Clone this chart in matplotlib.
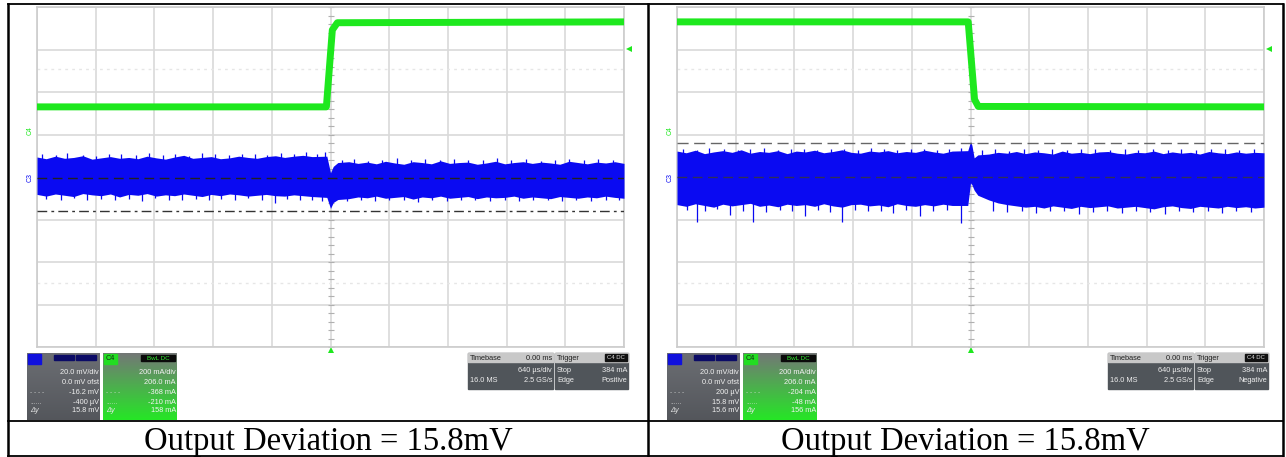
import numpy as np
import matplotlib.pyplot as plt
from matplotlib.patches import Rectangle

W, H = 1286, 457

# ---- waveform data ----
# time in µs (640 µs/div), C3 in mV (20 mV/div), C4 in mA (200 mA/div)
t_c4_left = [-3200, -45, 20, 75, 3200]
c4_left = [110, 110, 472, 506, 510]
t_c4_right = [-3200, -25, 44, 85, 3200]
c4_right = [510, 510, 145, 112, 110]

# C3 noise envelope (upper / lower edge of the blue band), sampled every 100 µs
# with a few extra samples around the load step
t_c3_left = np.r_[np.arange(-3200, -100, 100), [-40, 0, 30, 80], np.arange(200, 3201, 100)]
c3_up_left = [9.4, 8.6, 9.8, 8.8, 9.2, 10.0, 8.4, 9.0, 9.6, 8.8, 9.2, 8.6, 9.8, 9.0, 8.4,
              9.4, 10.2, 8.8, 9.2, 9.6, 8.6, 9.0, 9.8, 9.2, 8.8, 9.6, 10.0, 9.2, 9.8, 10.2, 9.6,
              9.8, 2.0, 5.0, 6.8,
              7.2, 6.4, 7.0, 6.2, 7.4, 6.6, 6.0, 7.2, 6.8, 6.2, 7.6, 6.4, 6.8, 7.0, 6.0,
              6.6, 7.4, 6.2, 6.8, 7.2, 6.4, 7.0, 6.6, 6.0, 7.4, 6.8, 6.2, 7.0, 6.6, 7.2, 6.4]
c3_lo_left = [-8.2, -9.0, -8.0, -8.6, -9.2, -7.8, -8.4, -8.8, -8.0, -9.4, -8.2, -8.6, -7.8,
              -9.0, -8.4, -8.8, -8.0, -8.6, -9.2, -8.2, -8.8, -8.0, -8.4, -9.0, -8.6, -8.2,
              -8.8, -9.0, -8.4, -8.8, -9.2,
              -9.6, -14.8, -12.0, -10.6,
              -10.2, -9.4, -9.8, -9.0, -10.0, -9.6, -9.2, -10.4, -9.4, -9.8, -9.0, -10.0,
              -9.6, -9.2, -10.2, -9.4, -9.8, -9.6, -9.0, -10.0, -9.4, -9.8, -10.2, -9.2,
              -9.6, -10.0, -9.4, -9.8, -9.0, -9.6, -10.0]
spk_t_up_left = [-3150, -2990, -2870, -2700, -2560, -2410, -2280, -2120, -1980, -1830,
                 -1690, -1540, -1400, -1260, -1110, -960, -820, -690, -540, -400,
                 -270, -150, -60, 120, 260, 410, 560, 720, 880, 1030, 1190, 1350,
                 1500, 1660, 1820, 1970, 2130, 2290, 2450, 2600, 2760, 2920, 3080]
spk_up_left = [10.8, 10.2, 11.2, 10.4, 10.0, 11.0, 10.6, 10.2, 11.4, 10.4, 10.8, 10.0,
               11.2, 10.6, 10.2, 10.8, 11.0, 10.4, 11.2, 10.8, 11.6, 11.0, 11.8, 8.0,
               8.4, 7.6, 8.2, 8.8, 7.8, 8.4, 8.0, 8.6, 7.8, 8.2, 8.8, 8.0, 8.4, 7.6,
               8.2, 8.6, 7.8, 8.4, 8.0]
spk_t_lo_left = [-3100, -2940, -2800, -2650, -2500, -2350, -2200, -2060, -1910, -1760,
                 -1620, -1470, -1330, -1190, -1040, -900, -750, -610, -470, -330,
                 -200, -90, 180, 330, 480, 640, 800, 950, 1110, 1270, 1420, 1580,
                 1740, 1900, 2050, 2210, 2370, 2520, 2680, 2840, 3000, 3150]
spk_lo_left = [-10.4, -10.8, -10.0, -11.0, -10.2, -10.6, -10.4, -11.2, -10.0, -10.6,
               -10.8, -10.2, -11.0, -10.4, -10.6, -10.0, -10.8, -12.0, -10.4, -10.8,
               -10.6, -11.4, -11.2, -10.8, -11.4, -10.6, -11.0, -11.6, -10.8, -11.2,
               -10.6, -11.0, -11.4, -10.8, -11.2, -10.6, -11.0, -11.4, -10.8, -11.2,
               -10.6, -11.0]

t_c3_right = np.r_[np.arange(-3200, -100, 100), [-30, 0, 15, 40, 80], np.arange(200, 3201, 100)]
c3_up_right = [12.2, 11.4, 12.6, 11.0, 11.8, 12.4, 11.6, 12.8, 11.2, 12.0, 11.6, 12.4, 11.0,
               12.2, 11.8, 12.6, 11.4, 12.0, 12.8, 11.6, 11.2, 12.2, 11.8, 12.4, 11.4, 12.0,
               11.6, 12.6, 11.8, 11.2, 12.2,
               12.4, 16.6, 15.0, 9.0, 10.4,
               10.8, 11.6, 11.2, 12.0, 11.0, 11.8, 11.4, 10.8, 12.2, 11.2, 11.6, 11.0, 11.8,
               12.0, 11.2, 10.8, 11.6, 11.4, 12.2, 11.0, 11.8, 11.2, 11.6, 10.8, 12.0, 11.4,
               11.0, 11.8, 11.2, 11.6, 11.4]
c3_lo_right = [-13.0, -13.8, -12.6, -13.4, -14.2, -12.8, -13.6, -13.0, -12.4, -13.8, -13.2,
               -14.0, -12.8, -13.4, -13.0, -13.8, -12.6, -13.6, -14.2, -13.0, -12.8, -13.6,
               -13.2, -14.0, -12.6, -13.4, -13.8, -13.0, -13.6, -12.8, -13.4,
               -13.4, -2.8, -3.6, -6.2, -8.6,
               -10.8, -12.2, -13.0, -13.6, -14.2, -13.8, -14.6, -13.6, -14.2, -14.8, -13.8,
               -14.4, -14.0, -13.6, -14.6, -14.2, -13.8, -14.4, -15.0, -14.0, -13.6, -14.4,
               -14.8, -13.8, -14.2, -14.6, -13.8, -14.4, -14.0, -14.6, -14.2]
spk_t_up_right = [-3140, -2980, -2850, -2690, -2540, -2400, -2250, -2100, -1960, -1810,
                  -1670, -1520, -1380, -1230, -1090, -940, -800, -650, -510, -370,
                  -230, -100, 120, 270, 420, 580, 740, 890, 1050, 1210, 1360, 1520,
                  1680, 1830, 1990, 2150, 2300, 2460, 2620, 2770, 2930, 3090]
spk_up_right = [13.2, 12.8, 13.6, 13.0, 12.6, 13.4, 13.8, 12.8, 13.2, 13.0, 12.6, 13.4,
                13.0, 12.8, 13.6, 13.2, 12.8, 13.0, 13.4, 12.6, 13.2, 13.8, 12.6, 13.0,
                12.4, 13.2, 12.8, 13.4, 12.6, 13.0, 13.2, 12.8, 13.4, 12.6, 13.0, 12.8,
                13.2, 12.6, 13.0, 13.4, 12.8, 13.0]
spk_t_lo_right = [-3090, -2980, -2890, -2760, -2620, -2480, -2370, -2230, -2080, -1950,
                  -1800, -1660, -1530, -1400, -1260, -1120, -980, -840, -700, -550,
                  -410, -260, -100, 250, 400, 560, 710, 870, 1020, 1180, 1340, 1490,
                  1650, 1800, 1960, 2120, 2270, 2430, 2590, 2740, 2900, 3060]
spk_lo_right = [-15.6, -21.0, -16.2, -15.2, -18.0, -15.8, -21.0, -16.4, -15.4, -16.0,
                -18.2, -15.6, -16.6, -21.0, -15.4, -16.2, -15.8, -16.8, -15.4, -18.4,
                -16.0, -15.6, -21.6, -16.0, -16.6, -15.8, -17.0, -16.2, -15.8, -17.4,
                -16.4, -16.0, -16.8, -15.8, -16.4, -17.2, -16.0, -16.6, -15.8, -17.0,
                -16.2, -16.6]

cursors_left = [-0.4, -16.2]
cursors_right = [15.8, 0.2]
trigger_ma = 384

blue_lines_left = ["20.0 mV/div", "0.0 mV ofst", "-16.2 mV", "-400 µV", "15.8 mV"]
blue_lines_right = ["20.0 mV/div", "0.0 mV ofst", "200 µV", "15.8 mV", "15.6 mV"]
green_lines_left = ["200 mA/div", "206.0 mA", "-368 mA", "-210 mA", "158 mA"]
green_lines_right = ["200 mA/div", "206.0 mA", "-204 mA", "-48 mA", "156 mA"]
edge_left, edge_right = "Positive", "Negative"
caption = "Output Deviation = 15.8mV"

BLUE = "#0a0af2"
GREEN = "#1ee81e"
GRID = "#d9d9d9"
SANS = "Liberation Sans"

fig = plt.figure(figsize=(W / 100, H / 100), dpi=100)
bg = fig.add_axes([0, 0, 1, 1])
bg.set_xlim(0, W)
bg.set_ylim(H, 0)
bg.axis("off")


def px_axes(x0, y0, x1, y1):
    return fig.add_axes([x0 / W, 1 - y1 / H, (x1 - x0) / W, (y1 - y0) / H])


def scope(x0, t4, c4, t3, up, lo, stu, su, stl, sl, cursors, cur_styles):
    ax = px_axes(x0, 7, x0 + 587, 347)
    ax.set_xlim(-3200, 3200)
    ax.set_ylim(-80, 80)
    ax.set_xticks(np.arange(-3200, 3201, 640))
    ax.set_yticks(np.arange(-80, 81, 20))
    ax.grid(color=GRID, lw=1.2)
    ax.tick_params(length=0, labelbottom=False, labelleft=False)
    for s in ax.spines.values():
        s.set_color("#cccccc")
        s.set_linewidth(1.2)
    # faint dotted reference lines and centre ticks
    for yv in (50.8, -50.0):
        ax.axhline(yv, color="#e6e6e6", lw=1, ls=(0, (2, 3)))
    ax.plot(np.zeros(41), np.arange(-80, 81, 4), ls="none", marker="_", ms=4,
            color="#b0b0b0", mew=0.8)

    ax.fill_between(t3, lo, up, color=BLUE, lw=0, zorder=3)
    ax.vlines(stu, 0, su, color=BLUE, lw=0.9, zorder=3)
    ax.vlines(stl, 0, sl, color=BLUE, lw=0.9, zorder=3)
    for cv, st in zip(cursors, cur_styles):
        ax.axhline(cv, color=st[1], lw=1.0, ls=st[0], zorder=4)

    axg = ax.twinx()
    axg.set_ylim(-1020, 580)
    axg.set_yticks([])
    for s in axg.spines.values():
        s.set_visible(False)
    axg.plot(t4, c4, color=GREEN, lw=5, solid_capstyle="butt", zorder=3)

    # markers: channel labels, trigger arrows
    ax.text(-0.012, 0, "C3", transform=ax.get_yaxis_transform(), rotation=90,
            color=BLUE, fontsize=5, ha="center", va="center", family=SANS)
    axg.text(-0.012, 0, "C4", transform=axg.get_yaxis_transform(), rotation=90,
             color=GREEN, fontsize=5, ha="center", va="center", family=SANS)
    axg.plot([1.008], [trigger_ma], marker="<", ms=4.5, color=GREEN, mew=0,
             transform=axg.get_yaxis_transform(), clip_on=False)
    ax.plot([0], [-0.01], marker="^", ms=4.5, color=GREEN, mew=0,
            transform=ax.get_xaxis_transform(), clip_on=False)
    return ax


scope(37, t_c4_left, c4_left, t_c3_left, c3_up_left, c3_lo_left,
      spk_t_up_left, spk_up_left, spk_t_lo_left, spk_lo_left, cursors_left,
      [((0, (7, 4)), "#222222"), ((0, (7, 3, 2, 3)), "#333333")])
scope(677, t_c4_right, c4_right, t_c3_right, c3_up_right, c3_lo_right,
      spk_t_up_right, spk_up_right, spk_t_lo_right, spk_lo_right, cursors_right,
      [((0, (8, 4)), "#666666"), ((0, (7, 4)), "#30305a")])

# ---- readout boxes under each screen ----
rows = [373, 383, 393, 402, 411]
fs = 5.3


def gradient(x0, y0, w, h, c_top, c_bot):
    g = np.linspace(0, 1, 40)[:, None, None]
    img = (1 - g) * np.array(c_top)[None, None, :] + g * np.array(c_bot)[None, None, :]
    img = np.repeat(img, 2, axis=1)
    bg.imshow(img, extent=(x0, x0 + w, y0 + h, y0), aspect="auto", zorder=1)


def readouts(x0, blines, glines, edge):
    # blue channel box
    gradient(x0, 353, 73, 67, (0.42, 0.43, 0.45), (0.33, 0.34, 0.36))
    bg.add_patch(Rectangle((x0 + 1, 354), 13, 10, color="#1010dd", zorder=2))
    for bx in (x0 + 27, x0 + 49):
        bg.add_patch(Rectangle((bx, 355), 20, 5, color="#0b0b66", zorder=2))
    for y, s in zip(rows, blines):
        bg.text(x0 + 72, y, s, ha="right", va="center", color="#f0f0f0",
                fontsize=fs, family=SANS, zorder=3)
    bg.text(x0 + 3, rows[2], "- - - -", va="center", color="#e0e0e0", fontsize=fs - 1, zorder=3)
    bg.text(x0 + 3, rows[3], "......", va="center", color="#e0e0e0", fontsize=fs - 1, zorder=3)
    bg.text(x0 + 3, rows[4], "Δy", va="center", color="#e0e0e0", fontsize=fs,
            style="italic", family=SANS, zorder=3)

    # green channel box
    xg = x0 + 76
    gradient(xg, 353, 74, 67, (0.45, 0.47, 0.46), (0.15, 0.9, 0.15))
    bg.add_patch(Rectangle((xg + 1, 354), 13, 10, color="#22dd22", zorder=2))
    bg.text(xg + 7.5, 359, "C4", ha="center", va="center", fontsize=fs,
            color="#103010", family=SANS, zorder=3)
    bg.add_patch(Rectangle((xg + 38, 354.5), 34, 6.5, color="#0a0a0a", zorder=2))
    bg.text(xg + 55, 358, "BwL DC", ha="center", va="center", fontsize=fs - 0.8,
            color="#33ee33", family=SANS, zorder=3)
    for y, s in zip(rows, glines):
        bg.text(xg + 73, y, s, ha="right", va="center", color="#f4f4f4",
                fontsize=fs, family=SANS, zorder=3)
    bg.text(xg + 3, rows[2], "- - - -", va="center", color="#e0e0e0", fontsize=fs - 1, zorder=3)
    bg.text(xg + 3, rows[3], "......", va="center", color="#e0e0e0", fontsize=fs - 1, zorder=3)
    bg.text(xg + 3, rows[4], "Δy", va="center", color="#e8e8e8", fontsize=fs,
            style="italic", family=SANS, zorder=3)

    # timebase / trigger boxes
    xt = x0 + 441
    for bx, bw in ((xt, 85), (xt + 87, 73)):
        bg.add_patch(Rectangle((bx, 353), bw, 36, color="#50555a", zorder=1))
        bg.add_patch(Rectangle((bx, 353), bw, 9, color="#c8c8c8", zorder=2))
    bg.text(xt + 2, 358, "Timebase", va="center", fontsize=fs, color="#202020", family=SANS, zorder=3)
    bg.text(xt + 84, 358, "0.00 ms", va="center", ha="right", fontsize=fs, color="#202020",
            family=SANS, zorder=3)
    bg.text(xt + 84, 371, "640 µs/div", va="center", ha="right", fontsize=fs, color="#eeeeee",
            family=SANS, zorder=3)
    bg.text(xt + 2, 381, "16.0 MS", va="center", fontsize=fs, color="#eeeeee", family=SANS, zorder=3)
    bg.text(xt + 84, 381, "2.5 GS/s", va="center", ha="right", fontsize=fs, color="#eeeeee",
            family=SANS, zorder=3)
    xr = xt + 87
    bg.text(xr + 2, 358, "Trigger", va="center", fontsize=fs, color="#202020", family=SANS, zorder=3)
    bg.add_patch(Rectangle((xr + 50, 354), 22, 7, color="#111111", zorder=2))
    bg.text(xr + 61, 357.8, "C4 DC", ha="center", va="center", fontsize=fs - 1, color="#dddddd",
            family=SANS, zorder=3)
    bg.text(xr + 2, 371, "Stop", va="center", fontsize=fs, color="#eeeeee", family=SANS, zorder=3)
    bg.text(xr + 72, 371, f"{trigger_ma} mA", va="center", ha="right", fontsize=fs,
            color="#eeeeee", family=SANS, zorder=3)
    bg.text(xr + 2, 381, "Edge", va="center", fontsize=fs, color="#eeeeee", family=SANS, zorder=3)
    bg.text(xr + 72, 381, edge, va="center", ha="right", fontsize=fs, color="#eeeeee",
            family=SANS, zorder=3)


readouts(27, blue_lines_left, green_lines_left, edge_left)
readouts(667, blue_lines_right, green_lines_right, edge_right)

# ---- table frame and captions ----
lw = 1.3
bg.plot([8, 1283], [4, 4], color="black", lw=lw)
bg.plot([8, 1283], [421, 421], color="black", lw=lw)
bg.plot([8, 1283], [455.5, 455.5], color="black", lw=lw)
for xv in (8, 648, 1283):
    bg.plot([xv, xv], [4, 455.5], color="black", lw=lw + 0.5)
bg.text(328, 450, caption, ha="center", va="baseline", fontsize=23.5, family="Liberation Serif")
bg.text(965, 450, caption, ha="center", va="baseline", fontsize=23.5, family="Liberation Serif")
bg.set_xlim(0, W)
bg.set_ylim(H, 0)

fig.savefig("out.png", dpi=100)
